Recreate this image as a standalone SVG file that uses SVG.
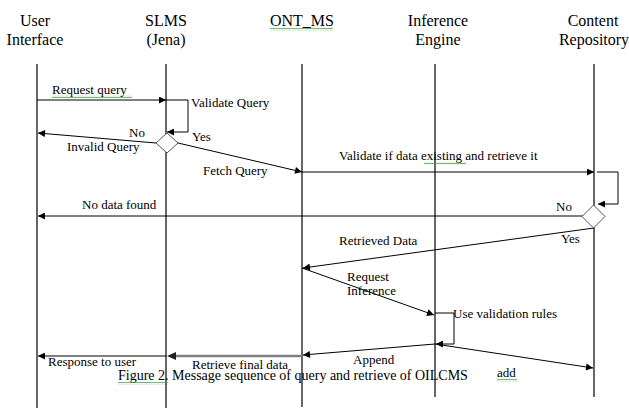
<svg xmlns="http://www.w3.org/2000/svg" width="629" height="414" viewBox="0 0 629 414">
<style>
text{font-family:"Liberation Serif","Times New Roman",serif;fill:#000}
.hd{font-size:16px;text-anchor:middle}
.lb{font-size:13px}
.cap{font-size:14px}
.life{stroke:#000;stroke-width:1.2;fill:none}
.msg{stroke:#000;stroke-width:1;fill:none}
.gray{stroke:#808080;stroke-width:2.6;fill:none}
.dia{fill:#fff;stroke:#555;stroke-width:1}
.wv{fill:url(#wave)}
</style>
<defs>
<marker id="ah" viewBox="0 0 10 10" refX="10" refY="5" markerWidth="9" markerHeight="7" orient="auto" markerUnits="userSpaceOnUse">
<path d="M0,0 L10,5 L0,10 z" fill="#000"/>
</marker>
<pattern id="wave" width="4" height="3" patternUnits="userSpaceOnUse">
<path d="M0,2.2 L1,0.8 L2,2.2 L3,0.8 L4,2.2" fill="none" stroke="#3c9c3c" stroke-width="0.7"/>
</pattern>
</defs>
<rect width="629" height="414" fill="#fff"/>

<g id="user-interface">
<text class="hd" x="35" y="26">User</text>
<text class="hd" x="35" y="45">Interface</text>
<line class="life" x1="37" y1="64" x2="37" y2="408"/>
</g>
<g id="slms">
<text class="hd" x="166" y="26">SLMS</text>
<text class="hd" x="166" y="45">(Jena)</text>
<line class="life" x1="166" y1="64" x2="166" y2="408"/>
</g>
<g id="ont-ms">
<text class="hd" x="302" y="26">ONT_MS</text>
<line class="life" x1="302" y1="64" x2="302" y2="407"/>
</g>
<g id="inference-engine">
<text class="hd" x="438" y="26">Inference</text>
<text class="hd" x="438" y="45">Engine</text>
<line class="life" x1="435" y1="64" x2="435" y2="397" stroke="#444"/>
</g>
<g id="content-repository">
<text class="hd" x="593" y="26">Content</text>
<text class="hd" x="594" y="45">Repository</text>
<line class="life" x1="594" y1="64" x2="594" y2="397"/>
</g>

<g id="connectors">
<line class="msg" x1="37" y1="100" x2="166" y2="100" marker-end="url(#ah)"/>
<polyline class="msg" points="166,100 188,100 188,132 167,132" marker-end="url(#ah)"/>
<line class="msg" x1="156" y1="143" x2="38" y2="133" marker-end="url(#ah)"/>
<line class="msg" x1="178" y1="143" x2="302" y2="172" marker-end="url(#ah)"/>
<line class="msg" x1="302" y1="172" x2="594" y2="172" marker-end="url(#ah)"/>
<polyline class="msg" points="597,172 618,172 618,204 598,204" marker-end="url(#ah)"/>
<line class="msg" x1="583" y1="216" x2="38" y2="216" marker-end="url(#ah)"/>
<line class="msg" x1="594" y1="228" x2="303" y2="268" marker-end="url(#ah)"/>
<line class="msg" x1="302" y1="268" x2="434" y2="315" marker-end="url(#ah)"/>
<polyline class="msg" points="435,313 454,313 454,344 436,344" marker-end="url(#ah)"/>
<line class="msg" x1="435" y1="344" x2="303" y2="355" marker-end="url(#ah)"/>
<line class="msg" x1="435" y1="344" x2="593" y2="368" marker-end="url(#ah)"/>
<line class="gray" x1="302" y1="356" x2="176" y2="356"/>
<path d="M176,352 L167,356 L176,360 z" fill="#222"/>
<line class="msg" x1="166" y1="356" x2="38" y2="356" marker-end="url(#ah)"/>
</g>

<g id="decision-slms">
<polygon class="dia" points="167,133 178,143 167,153 156,143"/>
</g>
<g id="decision-repository">
<polygon class="dia" points="593.5,205 605,216.5 593.5,228 582,216.5"/>
</g>

<g id="labels">
<text class="lb" x="52" y="94">Request  query</text>
<text class="lb" x="191" y="107">Validate Query</text>
<text class="lb" x="129" y="137">No</text>
<text class="lb" x="67" y="151">Invalid Query</text>
<text class="lb" x="192" y="141">Yes</text>
<text class="lb" x="203" y="175">Fetch Query</text>
<text class="lb" x="339" y="160">Validate if data existing  and retrieve it</text>
<text class="lb" x="82" y="209">No data found</text>
<text class="lb" x="556" y="211">No</text>
<text class="lb" x="561" y="243">Yes</text>
<text class="lb" x="339" y="245">Retrieved Data</text>
<text class="lb" x="347" y="281">Request</text>
<text class="lb" x="347" y="295">Inference</text>
<text class="lb" x="453" y="318">Use validation rules</text>
<text class="lb" x="353" y="364">Append</text>
<text class="lb" x="497" y="377">add</text>
<text class="lb" x="192" y="369">Retrieve final data</text>
<text class="lb" x="48" y="366">Response to user</text>
<text class="cap" x="118" y="380">Figure 2. Message sequence of query and retrieve of OILCMS</text>
</g>

<g id="spellcheck-underlines">
<rect class="wv" x="52" y="95" width="80" height="3"/>
<rect class="wv" x="270" y="28" width="63" height="3"/>
<rect class="wv" x="424" y="162" width="42" height="3"/>
<rect class="wv" x="118" y="382" width="50" height="3"/>
<rect class="wv" x="497" y="379" width="20" height="3"/>
</g>
</svg>
